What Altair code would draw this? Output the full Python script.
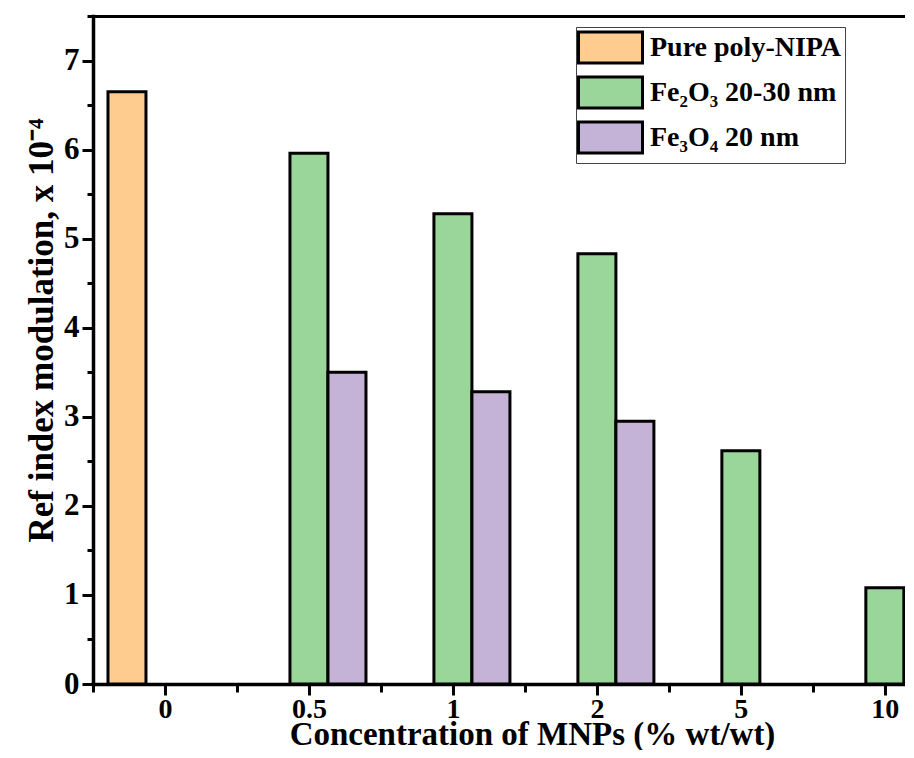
import json
import altair as alt
import pandas as pd

categories = ["0", "0.5", "1", "2", "5", "10"]
series = ["Pure poly-NIPA", "Fe₂O₃ 20-30 nm", "Fe₃O₄ 20 nm"]
colors = ["#FFCC90", "#9AD59A", "#C4B3D6"]
pure_vals = [6.65, None, None, None, None, None]
fe2o3_vals = [None, 5.96, 5.28, 4.83, 2.62, 1.08]
fe3o4_vals = [None, 3.50, 3.28, 2.95, None, None]

FONT = "Liberation Serif, Times New Roman, serif"
SLOT = 0.264  # group slot width in category units

rows = []
for si, vals in enumerate([pure_vals, fe2o3_vals, fe3o4_vals]):
    for ci, v in enumerate(vals):
        if v is not None:
            rows.append({"cat": categories[ci], "ci": ci, "slot": si - 1,
                         "series": series[si], "value": v})
df = pd.DataFrame(rows)

xscale = alt.Scale(domain=[-0.5, 5.14], nice=False, zero=False, padding=0)
yscale = alt.Scale(domain=[0, 7.5], nice=False)
label_expr = json.dumps(categories) + "[round(datum.value)]"

common = dict(domainColor="black", tickColor="black", grid=False,
              labelFont=FONT, titleFont=FONT, labelColor="black",
              titleColor="black", labelFontWeight="bold",
              titleFontWeight="bold")

x_main = alt.Axis(orient="bottom", values=list(range(len(categories))),
                  labelExpr=label_expr, tickSize=11, tickWidth=3,
                  domainWidth=3.5, domainCap="square", labelPadding=0,
                  labelFontSize=28, labelFlush=False,
                  title="Concentration of MNPs (% wt/wt)", titleFontSize=33,
                  titleX=439, titleY=60, titleBaseline="alphabetic",
                  **common)
y_main = alt.Axis(orient="left", values=list(range(8)), tickSize=11,
                  tickWidth=3, domainWidth=3.5, domainCap="square",
                  labelPadding=3, labelFontSize=31,
                  title="Ref index modulation, x 10⁻⁴", titleFontSize=35,
                  titleX=-41, titleY=314, titleBaseline="alphabetic",
                  titleAngle=-90, **common)
x_minor = alt.Axis(orient="bottom", values=[i - 0.5 for i in range(len(categories))],
                   tickSize=8, tickWidth=3, tickColor="black", domain=False,
                   labels=False, title=None, grid=False)
y_minor = alt.Axis(orient="left", values=[i + 0.5 for i in range(8)],
                   tickSize=6, tickWidth=3, tickColor="black", domain=False,
                   labels=False, title=None, grid=False)
x_top = alt.Axis(orient="top", ticks=False, labels=False, domain=True,
                 domainColor="black", domainWidth=3, title=None, grid=False)

legend = alt.Legend(orient="none", legendX=483, legendY=11, title=None,
                    symbolType="M-2,-0.97H2V0.97H-2Z",
                    symbolSize=1024, symbolStrokeColor="black",
                    symbolStrokeWidth=3, symbolOffset=14, labelOffset=22,
                    labelFont=FONT, labelFontSize=28, labelFontWeight="bold",
                    labelColor="black", strokeColor="#444", padding=3,
                    rowPadding=0, fillColor="white", labelLimit=400)

base = alt.Chart(df).transform_calculate(
    pos=f"datum.ci + datum.slot * {SLOT}"
)

bars = base.mark_bar(size=38, stroke="black", strokeWidth=3).encode(
    x=alt.X("pos:Q", scale=xscale, axis=x_main),
    y=alt.Y("value:Q", scale=yscale, axis=y_main),
    color=alt.Color("series:N", scale=alt.Scale(domain=series, range=colors),
                    legend=legend),
)

minor = base.mark_point(opacity=0).encode(
    x=alt.X("pos:Q", scale=xscale, axis=x_minor),
    y=alt.Y("value:Q", scale=yscale, axis=y_minor),
)

top = base.mark_point(opacity=0).encode(
    x=alt.X("pos:Q", scale=xscale, axis=x_top),
    y=alt.Y("value:Q", scale=yscale, axis=None),
)

chart = alt.layer(minor, top, bars).resolve_axis(
    x="independent", y="independent"
).properties(
    width=812, height=668,
    padding={"left": 85, "top": 8, "right": 0, "bottom": 66},
    autosize=alt.AutoSizeParams(type="none"),
    background="white",
).configure_view(stroke=None)

chart.save("out.html", embed_options={"renderer": "svg", "actions": False})
